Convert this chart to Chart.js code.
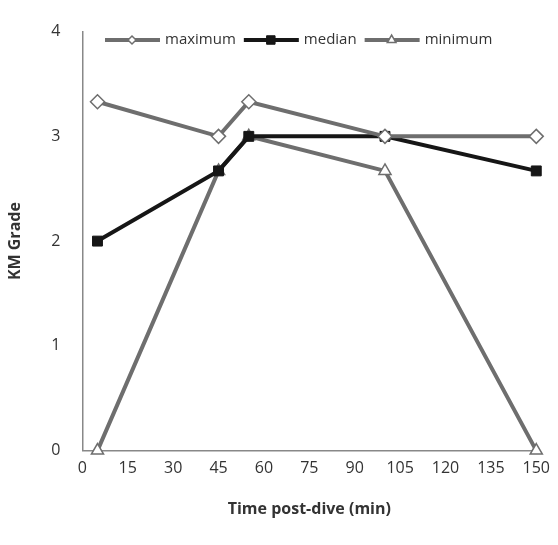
<!DOCTYPE html><html><head><meta charset="utf-8">
<script src="https://cdn.jsdelivr.net/npm/chart.js@4"></script>
<style>html,body{margin:0;background:#fff}#w{width:558px;height:545px}</style></head><body><div id="w"><canvas id="c"></canvas></div>
<script>
const times=[5,45,55,100,150];
const maximum=[3.33,3,3.33,3,3];
const median=[2,2.67,3,3,2.67];
const minimum=[0,2.67,3,2.67,0];
const xTicks=[0,15,30,45,60,75,90,105,120,135,150];
const mk=a=>a.map((v,i)=>({x:times[i],y:v}));
const legendPlugin={id:'lg',afterDraw(ch){const ctx=ch.ctx;let x=105;const y=40;ctx.save();ctx.font='15px "Open Sans"';ctx.textBaseline='middle';
ch.data.datasets.forEach(d=>{ctx.strokeStyle=d.borderColor;ctx.lineWidth=4;ctx.beginPath();ctx.moveTo(x,y);ctx.lineTo(x+55,y);ctx.stroke();
ctx.fillStyle=d.pointBackgroundColor;ctx.strokeStyle=d.pointBorderColor;ctx.lineWidth=d.pointBorderWidth;
Chart.helpers.drawPoint(ctx,{pointStyle:d.pointStyle,radius:d.legR,rotation:0,borderWidth:d.pointBorderWidth},x+27,y);
ctx.fillStyle='#333';ctx.fillText(d.label,x+60,y);x+=60+ctx.measureText(d.label).width+8;});ctx.restore();}};
new Chart(document.getElementById('c'),{type:'scatter',plugins:[legendPlugin],data:{datasets:[
{label:'maximum',data:mk(maximum),showLine:true,clip:false,borderColor:'#6e6e6e',borderWidth:4,pointStyle:'rectRot',pointRadius:7,legR:4,pointBackgroundColor:'#fff',pointBorderColor:'#6e6e6e',pointBorderWidth:1.5},
{label:'median',data:mk(median),showLine:true,clip:false,borderColor:'#161616',borderWidth:4,pointStyle:'rect',pointRadius:7,legR:6,pointBackgroundColor:'#161616',pointBorderColor:'#161616',pointBorderWidth:1},
{label:'minimum',data:mk(minimum),showLine:true,clip:false,borderColor:'#6e6e6e',borderWidth:4,pointStyle:'triangle',pointRadius:7,legR:5,pointBackgroundColor:'#fff',pointBorderColor:'#6e6e6e',pointBorderWidth:1.5}
]},options:{animation:false,responsive:true,maintainAspectRatio:false,layout:{padding:{top:0,right:13,left:2,bottom:26}},
plugins:{legend:{display:false},tooltip:{enabled:false}},
scales:{x:{type:'linear',min:0,max:150,afterBuildTicks:s=>{s.ticks=xTicks.map(v=>({value:v}))},grid:{display:false,drawTicks:false},border:{color:'#888',width:1.5},ticks:{padding:8,color:'#333',font:{size:16,family:'Open Sans'},maxRotation:0,autoSkip:false},title:{display:true,text:'Time post-dive (min)',padding:{top:14,bottom:0},color:'#333',font:{size:16,weight:'bold',family:'Open Sans'}}},
y:{min:0,max:4,ticks:{stepSize:1,padding:22,color:'#333',font:{size:16,family:'Open Sans'}},grid:{display:false,drawTicks:false},border:{color:'#888',width:1.5},title:{display:true,text:'KM Grade',color:'#333',font:{size:16,weight:'bold',family:'Open Sans'}}}}}});
</script></body></html>
